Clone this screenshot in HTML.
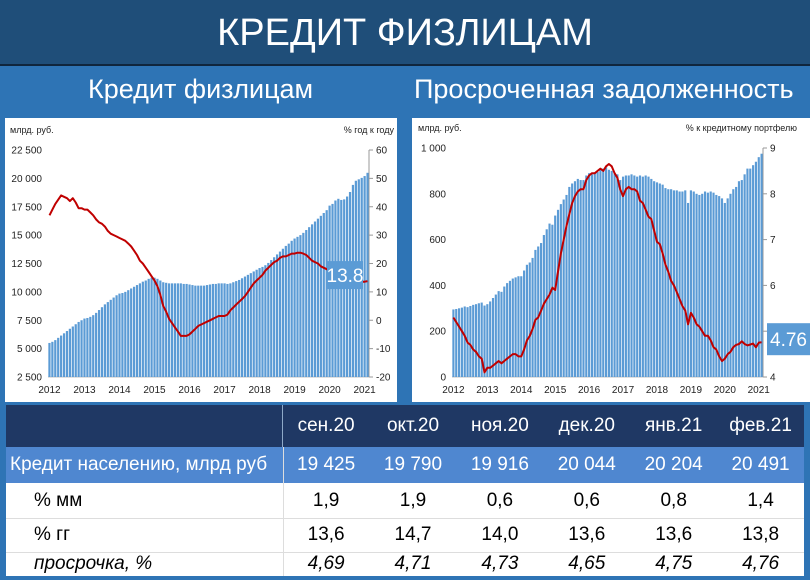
<!DOCTYPE html>
<html><head><meta charset="utf-8">
<style>
body{margin:0;width:810px;height:580px;overflow:hidden;background:#2e74b5;font-family:"Liberation Sans Narrow","Liberation Sans","DejaVu Sans",sans-serif;position:relative}
#title{position:absolute;left:0;top:0;width:810px;height:64px;background:#1f4e79;border-bottom:2px solid #10263d;color:#fff;font-size:38px;text-align:center;line-height:66px}
.sub{position:absolute;top:74px;color:#fff;font-size:27px}
.panel{position:absolute;top:118px;height:284px;background:#fff}
svg text{font-family:"Liberation Sans","DejaVu Sans",sans-serif}
#tbl{position:absolute;left:6px;top:405px;width:798px;height:171px;background:#fff}
.row{position:absolute;left:0;width:798px;display:flex;align-items:center;font-size:19px}
.c0{width:277px;padding-left:4px;box-sizing:border-box}
.c{width:87px;text-align:center}
</style></head><body>
<div id="title">КРЕДИТ ФИЗЛИЦАМ</div>
<div class="sub" style="left:88px">Кредит физлицам</div>
<div class="sub" style="left:414px">Просроченная задолженность</div>
<div class="panel" style="left:5px;width:392px"></div>
<div class="panel" style="left:412px;width:398px"></div>
<svg id="chart" width="810" height="580" style="position:absolute;left:0;top:0"></svg>

<div id="tbl">
 <div class="row" style="top:0;height:42px;background:#1f3864;color:#fff">
  <div class="c0" style="height:42px;border-right:1px solid #8ea9c8"></div><div class="c">сен.20</div><div class="c">окт.20</div><div class="c">ноя.20</div><div class="c">дек.20</div><div class="c">янв.21</div><div class="c">фев.21</div></div>
 <div class="row" style="top:42px;height:36px;background:#4f87d0;color:#fff">
  <div class="c0">Кредит населению, млрд руб</div><div class="c">19 425</div><div class="c">19 790</div><div class="c">19 916</div><div class="c">20 044</div><div class="c">20 204</div><div class="c">20 491</div></div>
 <div class="row" style="top:78px;height:35px;border-bottom:1px solid #ddd">
  <div class="c0" style="padding-left:28px">% мм</div><div class="c">1,9</div><div class="c">1,9</div><div class="c">0,6</div><div class="c">0,6</div><div class="c">0,8</div><div class="c">1,4</div></div>
 <div class="row" style="top:113px;height:34px;border-bottom:1px solid #ddd">
  <div class="c0" style="padding-left:28px">% гг</div><div class="c">13,6</div><div class="c">14,7</div><div class="c">14,0</div><div class="c">13,6</div><div class="c">13,6</div><div class="c">13,8</div></div>
 <div class="row" style="top:147px;height:24px;font-style:italic">
  <div class="c0" style="padding-left:28px">просрочка, %</div><div class="c">4,69</div><div class="c">4,71</div><div class="c">4,73</div><div class="c">4,65</div><div class="c">4,75</div><div class="c">4,76</div></div>
 <div style="position:absolute;left:277px;top:42px;width:1px;height:129px;background:#ddd"></div>
</div>

<script>
const years=["2012","2013","2014","2015","2016","2017","2018","2019","2020","2021"];
const loanValues=[5500,5600,5750,5950,6150,6350,6550,6750,6950,7150,7350,7500,
7650,7700,7800,7950,8150,8400,8650,8900,9100,9300,9500,9700,
9850,9900,10000,10150,10300,10450,10600,10750,10900,11000,11150,11250,
11250,11150,11000,10850,10800,10750,10750,10750,10750,10750,10700,10700,
10650,10600,10550,10550,10550,10550,10600,10650,10700,10700,10750,10750,
10750,10700,10750,10850,10950,11050,11200,11350,11500,11650,11800,11950,
12100,12200,12350,12550,12800,13050,13300,13550,13800,14050,14250,14500,
14700,14850,15000,15200,15450,15700,15950,16200,16450,16700,16950,17200,
17600,17750,18050,18200,18100,18150,18400,18800,19425,19790,19916,20044,
20204,20491];
const loanGrowth=[37,39,41,42.5,44,43.5,43,42,43,41.5,39.5,39.5,
39,39,38,37,35.5,34.5,34,33,31.5,30.5,30,29.5,
29,28.5,28,27,26,24.5,23,21,20,18.5,17,15.5,
14,12,9,5,3,0.5,-1,-2.5,-4,-5.5,-5.5,-5.5,
-5,-4,-3,-2,-1.5,-1,-0.5,0,0.5,1,1.5,1.5,
1.5,2,3.5,4.5,5.5,6.5,7.5,8.5,10,11.5,13,14,
15,16,17.5,18.5,19.5,20.5,21,22,22.5,22.5,23,23.5,
23.5,23.8,23.8,23.5,23,22,21,20.5,20,19,18.5,18,
18,17.5,17.5,17.5,15.5,13,12.5,13,13.6,14.7,14.0,13.6,
13.6,13.8];
const overdueValues=[295,297,300,303,308,305,310,315,318,322,325,312,
318,330,345,360,375,372,395,410,420,430,435,440,
440,465,490,500,520,555,570,585,620,645,670,665,
705,730,755,775,795,830,845,855,865,860,860,880,
890,885,890,895,905,910,915,905,900,890,885,860,
875,880,880,885,880,875,880,875,880,875,865,855,
850,845,840,825,820,820,815,815,810,810,815,760,
815,810,800,795,800,810,805,810,805,795,790,780,
760,780,800,820,830,855,860,885,910,910,925,940,
960,975];
const overdueShare=[5.3,5.2,5.1,5.0,4.9,4.75,4.7,4.6,4.55,4.45,4.4,4.1,
4.2,4.2,4.25,4.3,4.35,4.3,4.35,4.4,4.45,4.5,4.5,4.45,
4.45,4.6,4.8,4.9,5.05,5.25,5.3,5.45,5.6,5.7,5.8,5.95,
5.9,6.3,6.7,7.0,7.3,7.55,7.8,7.95,8.05,8.1,8.1,8.3,
8.4,8.45,8.45,8.5,8.55,8.5,8.6,8.65,8.6,8.45,8.35,8.1,
7.95,8.1,8.15,8.1,8.1,8.05,7.85,7.8,7.65,7.5,7.45,7.2,
6.95,6.9,6.7,6.45,6.3,6.1,6.0,5.85,5.7,5.55,5.45,5.15,
5.4,5.3,5.15,5.1,5.0,4.9,4.9,4.8,4.65,4.6,4.45,4.35,
4.4,4.5,4.55,4.65,4.7,4.72,4.78,4.72,4.69,4.71,4.73,4.65,
4.75,4.76];
const leftTicks=["2 500","5 000","7 500","10 000","12 500","15 000","17 500","20 000","22 500"];
const leftRTicks=["-20","-10","0","10","20","30","40","50","60"];
const rightTicks=["0","200","400","600","800","1 000"];
const rightRTicks=["4","5","6","7","8","9"];

const NS="http://www.w3.org/2000/svg";
const svg=document.getElementById('chart');
function mk(tag,attrs,parent){const e=document.createElementNS(NS,tag);for(const k in attrs)e.setAttribute(k,attrs[k]);(parent||svg).appendChild(e);return e;}

function drawChart(o){
  const g=mk('g',{});
  
  
  const yL=v=>o.y1-(v-o.lmin)/(o.lmax-o.lmin)*(o.y1-o.y0);
  const yR=v=>o.y1-(v-o.rmin)/(o.rmax-o.rmin)*(o.y1-o.y0);
  const n=o.bars.length;
  const step=(o.x1-o.x0)/n;
  const xM=i=>o.x0+step*(i+0.5);
  // gridline axes
  mk('line',{x1:o.x0,y1:o.y1,x2:o.x1,y2:o.y1,stroke:'#bfbfbf','stroke-width':1},g);
  o.ltick.forEach((t,i)=>{const v=o.lmin+i*(o.lmax-o.lmin)/(o.ltick.length-1);const y=yL(v);
    const tx=mk('text',{x:o.x0-6,y:y+3.5,'text-anchor':'end','font-size':10,fill:'#222'},g);tx.textContent=t;
    
    });
  o.rtick.forEach((t,i)=>{const v=o.rmin+i*(o.rmax-o.rmin)/(o.rtick.length-1);const y=yR(v);
    mk('line',{x1:o.x1,y1:y,x2:o.x1+4,y2:y,stroke:'#999'},g);
    const tx=mk('text',{x:o.x1+7,y:y+3.5,'font-size':10,fill:'#222'},g);tx.textContent=t;
    
    });
  mk('line',{x1:o.x1,y1:o.y0,x2:o.x1,y2:o.y1,stroke:'#999'},g);
  o.bars.forEach((v,i)=>{const r=mk('rect',{x:xM(i)-step*0.38,y:yL(v),width:step*0.76,height:o.y1-yL(v),fill:'#5b9bd5'},g);
    
    });
  const pts=o.line.map((v,i)=>xM(i).toFixed(1)+','+yR(v).toFixed(1)).join(' ');
  const pl=mk('polyline',{points:pts,fill:'none',stroke:'#c00000','stroke-width':2,'stroke-linejoin':'round'},g);
  
  
  years.forEach((y,i)=>{const t=mk('text',{x:xM(i*12),y:o.y1+16,'text-anchor':'middle','font-size':10,fill:'#222'},g);t.textContent=y;
    
    });
  const a=mk('text',{x:o.tx0,y:o.y0-17,'font-size':9,fill:'#222'},g);a.textContent=o.ltitle;
  
  
  const b=mk('text',{x:o.tx1,y:o.y0-17,'font-size':9,'text-anchor':'end',fill:'#222'},g);b.textContent=o.rtitle;
  
  
  const last=o.line[o.line.length-1];
  const ly=yR(last);
  const bx=mk('rect',{x:o.bx,y:ly-o.bh/2+o.boff,width:o.bw,height:o.bh,fill:'#5b9bd5'},g);
  
  
  const lt=mk('text',{x:o.bx+o.bw/2,y:ly+o.boff+7,'text-anchor':'middle','font-size':19,fill:'#fff'},g);lt.textContent=String(last);
  
  
}
drawChart({name:'loan-chart',x0:48,x1:369,y0:150,y1:377,lmin:2500,lmax:22500,rmin:-20,rmax:60,
  bars:loanValues,line:loanGrowth,ltick:leftTicks,rtick:leftRTicks,ltitle:'млрд. руб.',rtitle:'% год к году',
  tx0:10,tx1:394,bx:327,bw:36,bh:28,boff:-6});
drawChart({name:'overdue-chart',x0:452,x1:763,y0:148,y1:377,lmin:0,lmax:1000,rmin:4,rmax:9,
  bars:overdueValues,line:overdueShare,ltick:rightTicks,rtick:rightRTicks,ltitle:'млрд. руб.',rtitle:'% к кредитному портфелю',
  tx0:418,tx1:797,bx:767,bw:43,bh:32,boff:-3});
</script>
</body></html>
